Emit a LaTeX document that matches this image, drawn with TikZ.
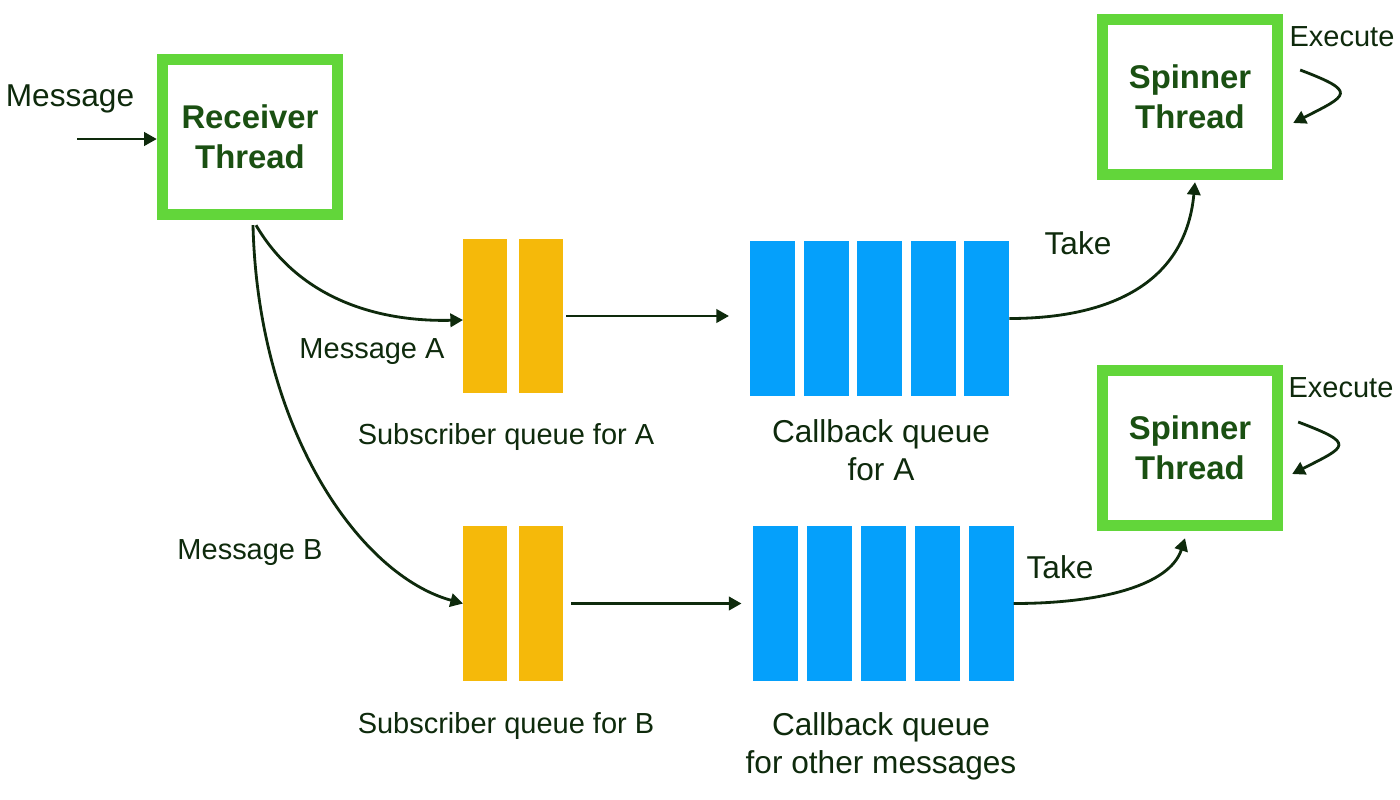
\documentclass[tikz,border=0pt]{standalone}
\usepackage{fontspec}
\setmainfont{Liberation Sans}
\usetikzlibrary{arrows.meta}

\definecolor{thrgreen}{RGB}{98,214,58}
\definecolor{subyellow}{RGB}{245,185,10}
\definecolor{cbblue}{RGB}{5,160,251}
\definecolor{inkgreen}{RGB}{14,42,12}
\definecolor{titlegreen}{RGB}{26,80,18}

\tikzset{
  thread/.style={draw=thrgreen, line width=6.5pt, fill=white,
    minimum width=3.5cm, minimum height=3.1cm, inner sep=0pt, align=center,
    text=titlegreen, font=\fontsize{18.7}{22.8}\selectfont\bfseries},
  subbar/.style={fill=subyellow, minimum width=0.88cm, minimum height=3.1cm,
    inner sep=0pt, outer sep=0pt},
  cbbar/.style={fill=cbblue, minimum width=0.9cm, minimum height=3.1cm,
    inner sep=0pt, outer sep=0pt},
  lbl/.style={text=inkgreen, font=\fontsize{16.5}{21}\selectfont,
    align=center, inner sep=0pt},
  biglbl/.style={lbl, font=\fontsize{18}{21.5}\selectfont},
  flow/.style={inkgreen, line width=1.6pt, -{Triangle[length=7.2pt,width=7.6pt]}},
}

\begin{document}
\begin{tikzpicture}[x=0.02cm, y=-0.02cm]
\useasboundingbox (0,0) rectangle (1400,799);

% threads
\node[thread] (recv)  at (250,137)  {Receiver\\Thread};
\node[thread] (spinA) at (1190,97)  {Spinner\\Thread};
\node[thread] (spinB) at (1190,448) {Spinner\\Thread};

% queues
\node[subbar] (subA0) at (485,316)   {};
\node[subbar] (subA1) at (541,316)   {};
\node[subbar] (subB0) at (485,603.5) {};
\node[subbar] (subB1) at (541,603.5) {};
\foreach \i in {0,...,4} {
  \node[cbbar] (cbA\i) at ({772.5+53.6*\i},318.5) {};
  \node[cbbar] (cbB\i) at ({775+54*\i},603.5)   {};
}

% labels
\node[biglbl] (msg) at (70,99)    {Message};
\node[lbl] (msgA)   at (372,352)  {Message A};
\node[lbl] (msgB)   at (250,553)  {Message B};
\node[biglbl] (takeA) at (1078,243) {Take};
\node[biglbl] (takeB) at (1060,567) {Take};
\node[lbl] (execA)  at (1342,37)  {Execute};
\node[lbl] (execB)  at (1341,388) {Execute};
\node[lbl] (subAtx) at (506,437)  {Subscriber queue for A};
\node[lbl] (subBtx) at (506,726)  {Subscriber queue for B};
\node[biglbl] (cbAtx) at (881,450) {Callback queue\\for A};
\node[biglbl] (cbBtx) at (881,746) {Callback queue\\for other messages};

\coordinate (msgin) at (77,139);

% connectors
\draw[flow] (msgin) -- (recv.west |- msgin);
\draw[flow] ([shift={(6,5)}]recv.south) .. controls +(44,75) and +(-83,2) .. ([shift={(0,4)}]subA0.west);
\draw[flow] ([shift={(3,5)}]recv.south) .. controls +(5,205) and +(-103,-28) .. (subB0.west);
\draw[flow, shorten <=0.06cm, shorten >=0.42cm] (subA1.east) -- (cbA0.west |- subA1.east);
\draw[flow, shorten <=0.16cm, shorten >=0.22cm] (subB1.east) -- (cbB0.west |- subB1.east);
\draw[flow] (cbA4.east) .. controls +(91,0) and +(-10,107) .. ([shift={(5,2)}]spinA.south);
\draw[flow] (cbB4.east) .. controls +(88,0) and +(-15,47) .. ([shift={(-5,7)}]spinB.south);
\draw[flow] ([shift={(17,-27)}]spinA.east) .. controls +(58,22) and +(55,-28) .. ([shift={(10,26)}]spinA.east);
\draw[flow] ([shift={(15,-26)}]spinB.east) .. controls +(58,22) and +(55,-28) .. ([shift={(9,26)}]spinB.east);
\end{tikzpicture}
\end{document}
